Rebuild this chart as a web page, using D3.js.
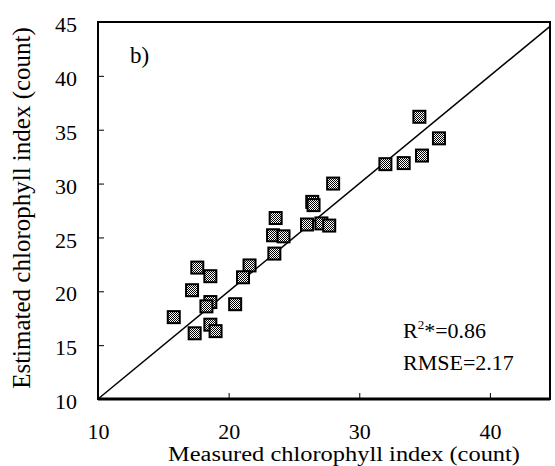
<!DOCTYPE html>
<html>
<head>
<meta charset="utf-8">
<script src="https://cdn.jsdelivr.net/npm/d3@7"></script>
<style>
  body { margin: 0; background: #fff; }
  svg { display: block; font-family: "Liberation Serif", "Times New Roman", serif; }
</style>
</head>
<body>
<div id="chart"></div>
<script>
// measured vs estimated chlorophyll index
const measured = [23.6, 23.4, 24.2, 23.5, 17.6, 18.6, 21.6, 21.1, 17.2, 18.6, 18.3, 20.5, 15.8, 18.6,
  17.4, 19.0, 34.6, 36.1, 34.8, 33.4, 32.0, 28.0, 26.4, 26.5, 26.0, 27.1, 27.7];
const estimated = [26.8, 25.2, 25.1, 23.5, 22.2, 21.4, 22.4, 21.3, 20.1, 19.0, 18.6, 18.8, 17.6, 16.9,
  16.1, 16.3, 36.2, 34.2, 32.6, 31.9, 31.8, 30.0, 28.3, 28.0, 26.2, 26.3, 26.1];
const xTicks = [10, 20, 30, 40];
const yTicks = [10, 15, 20, 25, 30, 35, 40, 45];
const xDomain = [10, 44.6];
const yDomain = [10, 45];

const W = 555, H = 466;
const margin = { top: 22, right: 5, bottom: 67, left: 98 };
const w = W - margin.left - margin.right;
const h = H - margin.top - margin.bottom;

const root = d3.select("#chart").append("svg")
  .attr("width", W).attr("height", H);

// checker fill for the square markers
const pat = root.append("defs").append("pattern")
  .attr("id", "checker")
  .attr("patternUnits", "userSpaceOnUse")
  .attr("width", 2).attr("height", 2);
pat.append("rect").attr("width", 2).attr("height", 2).attr("fill", "#fff");
pat.append("rect").attr("width", 1).attr("height", 1).attr("fill", "#000");
pat.append("rect").attr("x", 1).attr("y", 1).attr("width", 1).attr("height", 1).attr("fill", "#000");

const svg = root.append("g")
  .attr("transform", `translate(${margin.left},${margin.top})`);

const x = d3.scaleLinear().domain(xDomain).range([0, w]);
const y = d3.scaleLinear().domain(yDomain).range([h, 0]);

// Y axis
const ya = svg.append("g")
  .call(d3.axisLeft(y).tickValues(yTicks).tickSizeInner(-6).tickSizeOuter(0).tickPadding(21));
ya.select(".domain").remove();
ya.selectAll("text").attr("font-size", 22).attr("font-family", "Liberation Serif").attr("dy", "0.44em");

// X axis
const xa = svg.append("g")
  .attr("transform", `translate(0,${h})`)
  .call(d3.axisBottom(x).tickValues(xTicks).tickSizeInner(-6).tickSizeOuter(0).tickPadding(24));
xa.select(".domain").remove();
xa.selectAll("text").attr("font-size", 22).attr("font-family", "Liberation Serif");

// frame
svg.append("rect")
  .attr("width", w).attr("height", h)
  .attr("fill", "none").attr("stroke", "#000").attr("stroke-width", 2);
svg.append("line")
  .attr("x1", 0).attr("x2", w).attr("y1", h).attr("y2", h)
  .attr("stroke", "#000").attr("stroke-width", 3);

// 1:1 line
svg.append("line")
  .attr("x1", x(10)).attr("y1", y(10))
  .attr("x2", x(xDomain[1])).attr("y2", y(xDomain[1]))
  .attr("stroke", "#000").attr("stroke-width", 1.5);

// points
const pts = measured.map((m, i) => ({ m, e: estimated[i] }));
svg.selectAll(".pt")
  .data(pts)
  .join("rect")
  .attr("class", "pt")
  .attr("x", d => x(d.m) - 6)
  .attr("y", d => y(d.e) - 6)
  .attr("width", 12).attr("height", 12)
  .attr("fill", "url(#checker)")
  .attr("stroke", "#000").attr("stroke-width", 2);

// panel label
root.append("text")
  .attr("x", 130).attr("y", 63)
  .attr("font-size", 23)
  .text("b)");

// stats
const st = root.append("text")
  .attr("x", 403).attr("y", 338)
  .attr("font-size", 22);
st.append("tspan").text("R");
st.append("tspan").attr("font-size", 13).attr("dy", -9).text("2");
st.append("tspan").attr("dy", 9).text("*=0.86");
root.append("text")
  .attr("x", 403).attr("y", 370)
  .attr("font-size", 22)
  .text("RMSE=2.17");

// axis titles
root.append("text")
  .attr("x", 344).attr("y", 461)
  .attr("text-anchor", "middle")
  .attr("font-size", 20)
  .attr("textLength", 352).attr("lengthAdjust", "spacingAndGlyphs")
  .text("Measured chlorophyll index (count)");

root.append("text")
  .attr("transform", "rotate(-90)")
  .attr("x", -208).attr("y", 30)
  .attr("text-anchor", "middle")
  .attr("font-size", 25)
  .text("Estimated chlorophyll index (count)");
</script>
</body>
</html>
